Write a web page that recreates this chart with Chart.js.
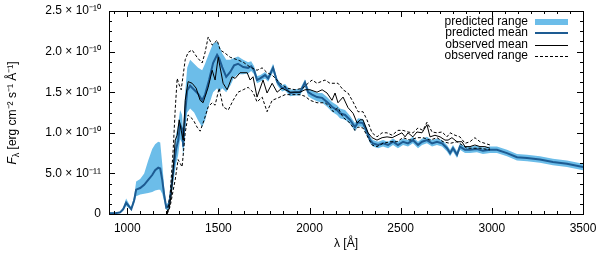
<!DOCTYPE html>
<html>
<head>
<meta charset="utf-8">
<script src="https://cdn.jsdelivr.net/npm/chart.js@4/dist/chart.umd.min.js"></script>
<style>
  html, body { margin: 0; padding: 0; background: #fff; }
  canvas { display: block; }
</style>
</head>
<body>
<canvas id="spec" width="600" height="253"></canvas>
<script>
// flux values are in units of 1e-10 erg cm^-2 s^-1 A^-1

// predicted model (mean + range), wavelength in Angstrom
const predWave = [
  900, 934, 961, 978, 994, 1011, 1022, 1038, 1049, 1071,
  1093, 1115, 1137, 1153, 1170, 1181, 1192, 1203, 1214, 1225,
  1235, 1246, 1257, 1268, 1279, 1290, 1301, 1307, 1318, 1329,
  1345, 1367, 1389, 1411, 1427, 1449, 1471, 1493, 1504, 1521,
  1543, 1565, 1586, 1608, 1636, 1663, 1680, 1696, 1712, 1729,
  1756, 1773, 1800, 1822, 1849, 1866, 1893, 1921, 1948, 1975,
  1992, 2014, 2041, 2069, 2096, 2123, 2151, 2167, 2195, 2222,
  2249, 2266, 2293, 2315, 2332, 2348, 2376, 2403, 2431, 2458,
  2485, 2513, 2540, 2567, 2595, 2617, 2644, 2672, 2699, 2727,
  2754, 2771, 2787, 2809, 2825, 2853, 2880, 2918, 2951, 2990,
  3028, 3083, 3138, 3193, 3264, 3335, 3412, 3500
];
const predMean = [
  0.01, 0.01, 0.02, 0.06, 0.14, 0.09, 0.06, 0.17, 0.30, 0.32,
  0.36, 0.42, 0.48, 0.54, 0.57, 0.56, 0.42, 0.23, 0.08, 0.09,
  0.19, 0.40, 0.62, 0.80, 0.90, 1.10, 1.05, 0.83, 1.25, 1.52,
  1.58, 1.53, 1.48, 1.40, 1.47, 1.65, 1.86, 1.96, 1.92, 1.81,
  1.69, 1.75, 1.83, 1.85, 1.81, 1.80, 1.82, 1.77, 1.65, 1.67,
  1.71, 1.67, 1.80, 1.63, 1.55, 1.56, 1.49, 1.50, 1.50, 1.62,
  1.50, 1.47, 1.44, 1.43, 1.38, 1.32, 1.28, 1.24, 1.22, 1.16,
  1.07, 1.13, 1.12, 1.01, 0.91, 0.87, 0.85, 0.87, 0.85, 0.89,
  0.85, 0.89, 0.87, 0.91, 0.85, 0.89, 0.91, 0.87, 0.89, 0.87,
  0.81, 0.75, 0.81, 0.73, 0.83, 0.79, 0.79, 0.80, 0.78, 0.79,
  0.79, 0.75, 0.70, 0.69, 0.67, 0.64, 0.62, 0.58
];
const predLow = [
  0.00, 0.00, 0.01, 0.04, 0.10, 0.07, 0.05, 0.13, 0.22, 0.24,
  0.25, 0.26, 0.27, 0.29, 0.30, 0.30, 0.25, 0.15, 0.05, 0.05,
  0.12, 0.28, 0.45, 0.62, 0.72, 0.92, 0.88, 0.70, 1.05, 1.25,
  1.30, 1.25, 1.15, 1.07, 1.15, 1.35, 1.50, 1.55, 1.50, 1.55,
  1.50, 1.58, 1.68, 1.72, 1.72, 1.73, 1.76, 1.72, 1.61, 1.63,
  1.67, 1.63, 1.75, 1.59, 1.51, 1.52, 1.45, 1.46, 1.46, 1.57,
  1.45, 1.42, 1.39, 1.37, 1.32, 1.26, 1.22, 1.18, 1.16, 1.11,
  1.02, 1.08, 1.07, 0.96, 0.87, 0.83, 0.81, 0.83, 0.81, 0.85,
  0.81, 0.85, 0.83, 0.87, 0.81, 0.85, 0.87, 0.83, 0.85, 0.83,
  0.77, 0.71, 0.77, 0.69, 0.79, 0.75, 0.75, 0.76, 0.74, 0.75,
  0.75, 0.71, 0.66, 0.65, 0.63, 0.60, 0.58, 0.54
];
const predHigh = [
  0.02, 0.02, 0.03, 0.08, 0.19, 0.12, 0.08, 0.22, 0.40, 0.43,
  0.50, 0.66, 0.80, 0.86, 0.89, 0.88, 0.62, 0.32, 0.12, 0.14,
  0.28, 0.52, 0.78, 0.98, 1.10, 1.28, 1.22, 1.00, 1.50, 1.80,
  1.90, 1.85, 1.80, 1.77, 1.85, 1.98, 2.10, 2.12, 2.08, 1.98,
  1.90, 1.90, 1.92, 1.94, 1.90, 1.87, 1.88, 1.82, 1.70, 1.71,
  1.75, 1.71, 1.85, 1.67, 1.59, 1.60, 1.53, 1.54, 1.54, 1.66,
  1.55, 1.52, 1.49, 1.49, 1.44, 1.38, 1.34, 1.30, 1.28, 1.21,
  1.12, 1.18, 1.17, 1.06, 0.95, 0.91, 0.89, 0.91, 0.89, 0.93,
  0.89, 0.93, 0.91, 0.95, 0.89, 0.93, 0.95, 0.91, 0.93, 0.91,
  0.85, 0.79, 0.85, 0.77, 0.87, 0.83, 0.83, 0.84, 0.82, 0.83,
  0.83, 0.79, 0.74, 0.73, 0.71, 0.68, 0.66, 0.62
];

// observed mean
const obsWave = [
  1219, 1230, 1241, 1252, 1263, 1274, 1285, 1296, 1307, 1318,
  1334, 1356, 1378, 1400, 1416, 1444, 1466, 1482, 1499, 1526,
  1548, 1575, 1592, 1619, 1658, 1674, 1690, 1712, 1745, 1767,
  1795, 1822, 1849, 1893, 1948, 1975, 2003, 2041, 2069, 2096,
  2123, 2140, 2156, 2184, 2211, 2239, 2261, 2277, 2293, 2321,
  2343, 2370, 2398, 2425, 2453, 2480, 2507, 2524, 2540, 2567,
  2589, 2617, 2644, 2661, 2688, 2716, 2743, 2760, 2781, 2809,
  2836, 2853, 2880, 2907, 2935, 2962, 2990
];
const obsMean = [
  0.01, 0.07, 0.23, 0.54, 0.91, 0.97, 1.16, 1.03, 0.91, 1.40,
  1.63, 1.61, 1.55, 1.40, 1.37, 1.56, 1.77, 1.65, 1.93, 1.61,
  1.53, 1.69, 1.67, 1.74, 1.74, 1.65, 1.69, 1.44, 1.65, 1.49,
  1.61, 1.50, 1.55, 1.50, 1.50, 1.53, 1.53, 1.50, 1.53, 1.49,
  1.40, 1.49, 1.37, 1.44, 1.31, 1.24, 1.12, 1.16, 1.16, 1.00,
  0.94, 0.91, 0.94, 0.95, 0.94, 0.97, 1.00, 0.95, 1.00, 0.95,
  1.01, 1.00, 1.10, 0.95, 0.97, 0.95, 0.91, 0.91, 0.94, 0.89,
  0.89, 0.83, 0.83, 0.85, 0.83, 0.83, 0.81
];

// observed range, upper edge
const obsHighWave = [
  1219, 1235, 1252, 1263, 1274, 1285, 1296, 1318, 1334, 1356,
  1383, 1411, 1427, 1444, 1466, 1493, 1510, 1537, 1565, 1603,
  1636, 1674, 1712, 1740, 1767, 1795, 1839, 1877, 1921, 1964,
  1992, 2014, 2041, 2085, 2112, 2156, 2184, 2211, 2239, 2266,
  2293, 2315, 2343, 2370, 2398, 2425, 2453, 2485, 2513, 2540,
  2567, 2595, 2622, 2644, 2672, 2699, 2727, 2754, 2771, 2798,
  2825, 2853, 2880, 2907, 2935, 2962, 2990
];
const obsHigh = [
  0.02, 0.23, 0.79, 1.28, 1.67, 1.59, 1.53, 1.90, 1.99, 2.02,
  1.93, 1.86, 1.99, 2.18, 2.08, 2.14, 2.02, 1.98, 1.93, 1.90,
  1.87, 1.81, 1.77, 1.80, 1.74, 1.71, 1.61, 1.55, 1.53, 1.55,
  1.61, 1.65, 1.61, 1.65, 1.61, 1.61, 1.53, 1.49, 1.38, 1.26,
  1.26, 1.16, 1.00, 0.95, 1.00, 1.00, 0.97, 1.03, 1.03, 1.01,
  1.00, 1.06, 1.03, 1.13, 1.01, 1.00, 1.01, 0.95, 1.00, 0.97,
  0.95, 0.87, 0.89, 0.94, 0.89, 0.87, 0.85
];

// observed range, lower edge
const obsLowWave = [
  1219, 1235, 1263, 1279, 1301, 1318, 1334, 1362, 1383, 1400,
  1422, 1444, 1466, 1482, 1504, 1526, 1554, 1581, 1608, 1636,
  1663, 1690, 1712, 1740, 1767, 1795, 1828, 1866, 1904, 1948,
  1975, 2003, 2041, 2085, 2112, 2129, 2156, 2184, 2222, 2249,
  2266, 2293, 2321, 2343, 2370, 2403, 2442, 2480, 2513, 2551,
  2589, 2622, 2661, 2699, 2732, 2771, 2809, 2836, 2864, 2907,
  2935, 2990
];
const obsLow = [
  0.00, 0.09, 0.42, 0.67, 0.58, 1.00, 1.22, 1.16, 1.07, 1.02,
  1.16, 1.32, 1.37, 1.34, 1.55, 1.32, 1.28, 1.40, 1.50, 1.53,
  1.56, 1.50, 1.38, 1.44, 1.26, 1.40, 1.43, 1.47, 1.47, 1.47,
  1.45, 1.40, 1.37, 1.37, 1.32, 1.26, 1.31, 1.19, 1.12, 1.03,
  1.07, 1.06, 0.94, 0.85, 0.83, 0.87, 0.89, 0.89, 0.94, 0.91,
  0.94, 0.94, 0.91, 0.94, 0.89, 0.87, 0.89, 0.85, 0.81, 0.81,
  0.81, 0.79
];

const xTicks = [1000, 1500, 2000, 2500, 3000, 3500];
const xTickLabels = ['1000', '1500', '2000', '2500', '3000', '3500'];
const yTicks = [0, 0.5, 1.0, 1.5, 2.0, 2.5];
const yTickLabels = ['0', '5.0 × 10⁻¹¹', '1.0 × 10⁻¹⁰', '1.5 × 10⁻¹⁰', '2.0 × 10⁻¹⁰', '2.5 × 10⁻¹⁰'];

const FONT = '"Liberation Sans", Arial, sans-serif';
const BAND = '#6cbde9';
const PRED = '#1d5b92';

const pts = (xs, ys) => xs.map((x, i) => ({ x, y: ys[i] }));

// frame with inward ticks on all four sides, gnuplot style
const framePlugin = {
  id: 'frame',
  afterDatasetsDraw(chart) {
    const { ctx, chartArea: a, scales: { x, y } } = chart;
    ctx.save();
    ctx.strokeStyle = '#000';
    ctx.lineWidth = 1;
    ctx.beginPath();
    const seg = (x1, y1, x2, y2) => { ctx.moveTo(x1, y1); ctx.lineTo(x2, y2); };
    const xStep = 500, xMinor = 7;
    for (let v = 500; v <= 3500 + 1e-6; v += xStep / xMinor) {
      if (v < x.min || v > x.max) continue;
      const major = Math.abs(v / 500 - Math.round(v / 500)) < 1e-6;
      const len = major ? 6 : 3;
      const px = Math.round(x.getPixelForValue(v)) + 0.5;
      seg(px, a.bottom, px, a.bottom - len);
      seg(px, a.top, px, a.top + len);
    }
    for (let v = 0; v <= 2.5 + 1e-6; v += 0.125) {
      const major = Math.abs(v / 0.5 - Math.round(v / 0.5)) < 1e-6;
      const len = major ? 6 : 3;
      const py = Math.round(y.getPixelForValue(v)) + 0.5;
      seg(a.left, py, a.left + len, py);
      seg(a.right, py, a.right - len, py);
    }
    ctx.stroke();
    ctx.strokeRect(Math.round(a.left) + 0.5, Math.round(a.top) + 0.5,
      Math.round(a.right - a.left), Math.round(a.bottom - a.top));
    ctx.restore();
  },
  afterDraw(chart) {
    const { ctx } = chart;
    const ds = chart.data.datasets;
    // legend, text right aligned with sample on the right
    const rows = [
      { label: ds[4].label, kind: 'band', y: 22 },
      { label: ds[2].label, kind: 'pred', y: 33 },
      { label: ds[1].label, kind: 'obs', y: 45 },
      { label: ds[0].label, kind: 'dash', y: 56 }
    ];
    ctx.save();
    ctx.font = '12px ' + FONT;
    ctx.fillStyle = '#000';
    ctx.textAlign = 'right';
    ctx.textBaseline = 'middle';
    rows.forEach(r => {
      ctx.fillText(r.label, 528, r.y);
      if (r.kind === 'band') {
        ctx.fillStyle = BAND;
        ctx.fillRect(535, r.y - 3, 33, 6);
        ctx.fillStyle = '#000';
        return;
      }
      ctx.beginPath();
      ctx.setLineDash(r.kind === 'dash' ? [3, 2] : []);
      ctx.strokeStyle = r.kind === 'pred' ? PRED : '#000';
      ctx.lineWidth = r.kind === 'pred' ? 2 : 1;
      const yy = r.kind === 'pred' ? r.y : r.y + 0.5;
      ctx.moveTo(535, yy);
      ctx.lineTo(568, yy);
      ctx.stroke();
    });
    ctx.setLineDash([]);

    // y axis title with subscript lambda
    ctx.translate(13, 113);
    ctx.rotate(-Math.PI / 2);
    ctx.textAlign = 'left';
    const rest = ' [erg cm⁻² s⁻¹ Å⁻¹]';
    ctx.font = 'italic 12px ' + FONT;
    const wF = ctx.measureText('F').width;
    ctx.font = '9px ' + FONT;
    const wL = ctx.measureText('λ').width;
    ctx.font = '12px ' + FONT;
    const wR = ctx.measureText(rest).width;
    let cx = -(wF + wL + wR) / 2;
    ctx.font = 'italic 12px ' + FONT;
    ctx.fillText('F', cx, 0);
    cx += wF;
    ctx.font = '9px ' + FONT;
    ctx.fillText('λ', cx, 4);
    cx += wL;
    ctx.font = '12px ' + FONT;
    ctx.fillText(rest, cx, 0);
    ctx.restore();
  }
};

new Chart(document.getElementById('spec'), {
  type: 'line',
  data: {
    datasets: [
      { label: 'observed range', data: pts(obsHighWave, obsHigh), borderColor: '#000', borderWidth: 1, borderDash: [3, 2], order: 1 },
      { label: 'observed mean', data: pts(obsWave, obsMean), borderColor: '#000', borderWidth: 1, order: 2 },
      { label: 'predicted mean', data: pts(predWave, predMean), borderColor: PRED, borderWidth: 2, order: 3 },
      { label: 'observed range (low)', data: pts(obsLowWave, obsLow), borderColor: '#000', borderWidth: 1, borderDash: [3, 2], order: 1 },
      { label: 'predicted range', data: pts(predWave, predHigh), borderWidth: 0, borderColor: 'rgba(0,0,0,0)', backgroundColor: BAND, fill: 5, order: 5 },
      { label: 'predicted range (low)', data: pts(predWave, predLow), borderWidth: 0, borderColor: 'rgba(0,0,0,0)', fill: false, order: 6 }
    ]
  },
  options: {
    responsive: false,
    animation: false,
    devicePixelRatio: 1,
    elements: { point: { radius: 0 }, line: { tension: 0 } },
    layout: { padding: { top: 11, right: 17, left: 0, bottom: 0 } },
    plugins: { legend: { display: false }, tooltip: { enabled: false } },
    scales: {
      x: {
        type: 'linear', min: 900, max: 3500,
        afterBuildTicks: s => { s.ticks = xTicks.map(v => ({ value: v })); },
        afterFit: s => { s.height = 39; s.paddingLeft = 0; s.paddingRight = 0; },
        ticks: { color: '#000', font: { family: FONT, size: 12 }, padding: 7, maxRotation: 0, autoSkip: false,
                 callback: (v, i) => xTickLabels[i] },
        grid: { display: false, drawTicks: false },
        border: { display: false },
        title: { display: true, text: 'λ [Å]', color: '#000', font: { family: FONT, size: 12 }, padding: { top: 0, bottom: 2 } }
      },
      y: {
        type: 'linear', min: 0, max: 2.5,
        afterBuildTicks: s => { s.ticks = yTicks.map(v => ({ value: v })); },
        afterFit: s => { s.width = 109; s.paddingTop = 0; s.paddingBottom = 0; },
        ticks: { color: '#000', font: { family: FONT, size: 12 }, padding: 8, callback: (v, i) => yTickLabels[i] },
        grid: { display: false, drawTicks: false },
        border: { display: false }
      }
    }
  },
  plugins: [framePlugin]
});
</script>
</body>
</html>
